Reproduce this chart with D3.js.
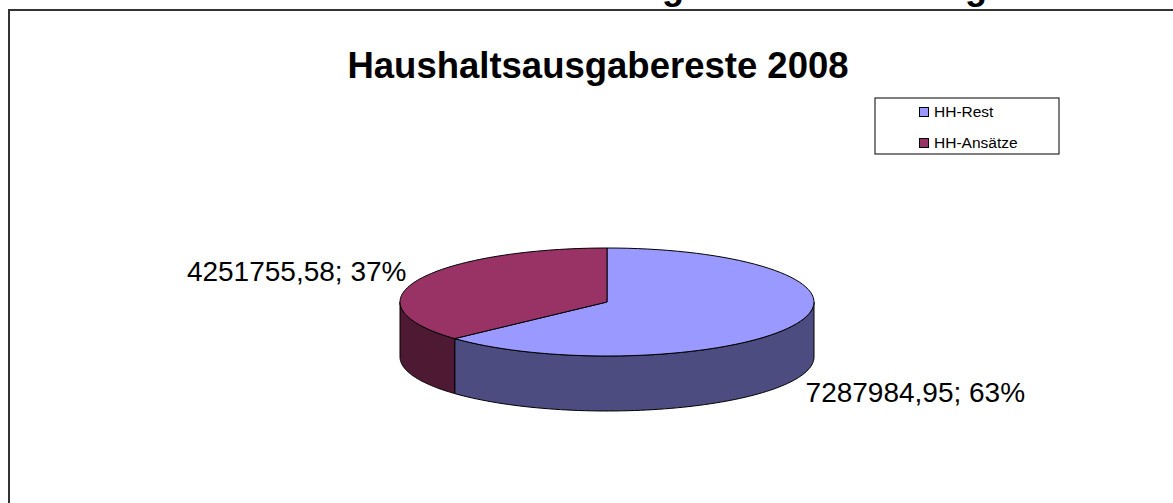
<!DOCTYPE html>
<html>
<head>
<meta charset="utf-8">
<script src="https://cdn.jsdelivr.net/npm/d3@7"></script>
<style>
  html, body { margin: 0; padding: 0; background: #fff; overflow: hidden; }
  text { font-family: Arial, "Liberation Sans", sans-serif; }
</style>
</head>
<body>
<div class="container"></div>
<script>
// data
var categories = ['HH-Rest', 'HH-Ansätze'];
var values = [7287984.95, 4251755.58];
var valueLabels = ['7287984,95', '4251755,58'];
var title = 'Haushaltsausgabereste 2008';

var topColors = ['#9999ff', '#993366'];
var sideColors = ['#4c4c80', '#4d1933'];

var width = 1173,
    height = 503;

var svg = d3.select('.container')
    .append('svg')
    .attr('width', width)
    .attr('height', height);

// bits of a heading above the chart, cut off by the window
svg.selectAll('text.cut')
    .data([662, 965])
    .enter()
    .append('text')
    .attr('class', 'cut')
    .attr('x', function(d) { return d; })
    .attr('y', -1)
    .attr('font-size', 36)
    .attr('font-weight', 'bold')
    .text('g');

// chart area border (runs off right and bottom)
svg.append('rect')
    .attr('x', 9)
    .attr('y', 10)
    .attr('width', width + 20)
    .attr('height', height + 20)
    .attr('fill', 'none')
    .attr('stroke', '#333')
    .attr('stroke-width', 2);

svg.append('text')
    .attr('x', 598)
    .attr('y', 78)
    .attr('text-anchor', 'middle')
    .attr('font-size', 36.5)
    .attr('font-weight', 'bold')
    .text(title);

// 3d pie settings
var cx = 607, cy = 302, rx = 207, ry = 54, depth = 55;

var total = d3.sum(values);
var pie = d3.pie().sort(null).value(function(d) { return d; });
var arcs = pie(values);

function pt(a, dy) {
    return [cx + rx * Math.sin(a), cy - ry * Math.cos(a) + (dy || 0)];
}

function topPath(d) {
    var p = d3.path();
    p.moveTo(cx, cy);
    var n = 80;
    for (var i = 0; i <= n; i++) {
        var a = d.startAngle + (d.endAngle - d.startAngle) * i / n;
        var q = pt(a);
        p.lineTo(q[0], q[1]);
    }
    p.closePath();
    return p.toString();
}

function sidePath(d) {
    // only the front half of the rim is visible
    var s = Math.max(d.startAngle, Math.PI / 2),
        e = Math.min(d.endAngle, Math.PI * 1.5);
    if (e <= s) return null;
    var p = d3.path(), n = 80, i, a, q;
    for (i = 0; i <= n; i++) {
        a = s + (e - s) * i / n;
        q = pt(a);
        if (i === 0) p.moveTo(q[0], q[1]); else p.lineTo(q[0], q[1]);
    }
    for (i = n; i >= 0; i--) {
        a = s + (e - s) * i / n;
        q = pt(a, depth);
        p.lineTo(q[0], q[1]);
    }
    p.closePath();
    return p.toString();
}

var g = svg.append('g');

g.selectAll('path.side')
    .data(arcs.filter(function(d) { return sidePath(d); }))
    .enter()
    .append('path')
    .attr('class', 'side')
    .attr('d', sidePath)
    .attr('fill', function(d) { return sideColors[d.index]; })
    .attr('stroke', '#000')
    .attr('stroke-width', 1)
    .attr('stroke-linejoin', 'round');

g.selectAll('path.top')
    .data(arcs)
    .enter()
    .append('path')
    .attr('class', 'top')
    .attr('d', topPath)
    .attr('fill', function(d) { return topColors[d.index]; })
    .attr('stroke', '#000')
    .attr('stroke-width', 1)
    .attr('stroke-linejoin', 'round');

// data labels
g.selectAll('text.lbl')
    .data(arcs)
    .enter()
    .append('text')
    .attr('class', 'lbl')
    .attr('font-size', 28)
    .attr('text-anchor', function(d) {
        var m = (d.startAngle + d.endAngle) / 2;
        return Math.sin(m) > 0 ? 'start' : 'end';
    })
    .attr('x', function(d) {
        var m = (d.startAngle + d.endAngle) / 2, q = pt(m);
        return Math.sin(m) > 0 ? q[0] + 9 : q[0] - 11;
    })
    .attr('y', function(d) {
        var m = (d.startAngle + d.endAngle) / 2, q = pt(m);
        return Math.cos(m) < 0 ? q[1] + depth + 23 : q[1] + 1;
    })
    .text(function(d) {
        return valueLabels[d.index] + '; ' + Math.round(d.value / total * 100) + '%';
    });

// legend
var legend = svg.append('g').attr('transform', 'translate(875,98)');
legend.append('rect')
    .attr('width', 184)
    .attr('height', 56)
    .attr('fill', '#fff')
    .attr('stroke', '#000')
    .attr('stroke-width', 1);

var items = legend.selectAll('g.item')
    .data(categories)
    .enter()
    .append('g')
    .attr('class', 'item')
    .attr('transform', function(d, i) { return 'translate(44,' + (19 + i * 31) + ')'; });

items.append('rect')
    .attr('x', 0.5)
    .attr('y', -9.5)
    .attr('width', 9)
    .attr('height', 9)
    .attr('fill', function(d, i) { return topColors[i]; })
    .attr('stroke', '#000')
    .attr('stroke-width', 1);

items.append('text')
    .attr('x', 15)
    .attr('y', 0)
    .attr('font-size', 15.5)
    .text(function(d) { return d; });
</script>
</body>
</html>
